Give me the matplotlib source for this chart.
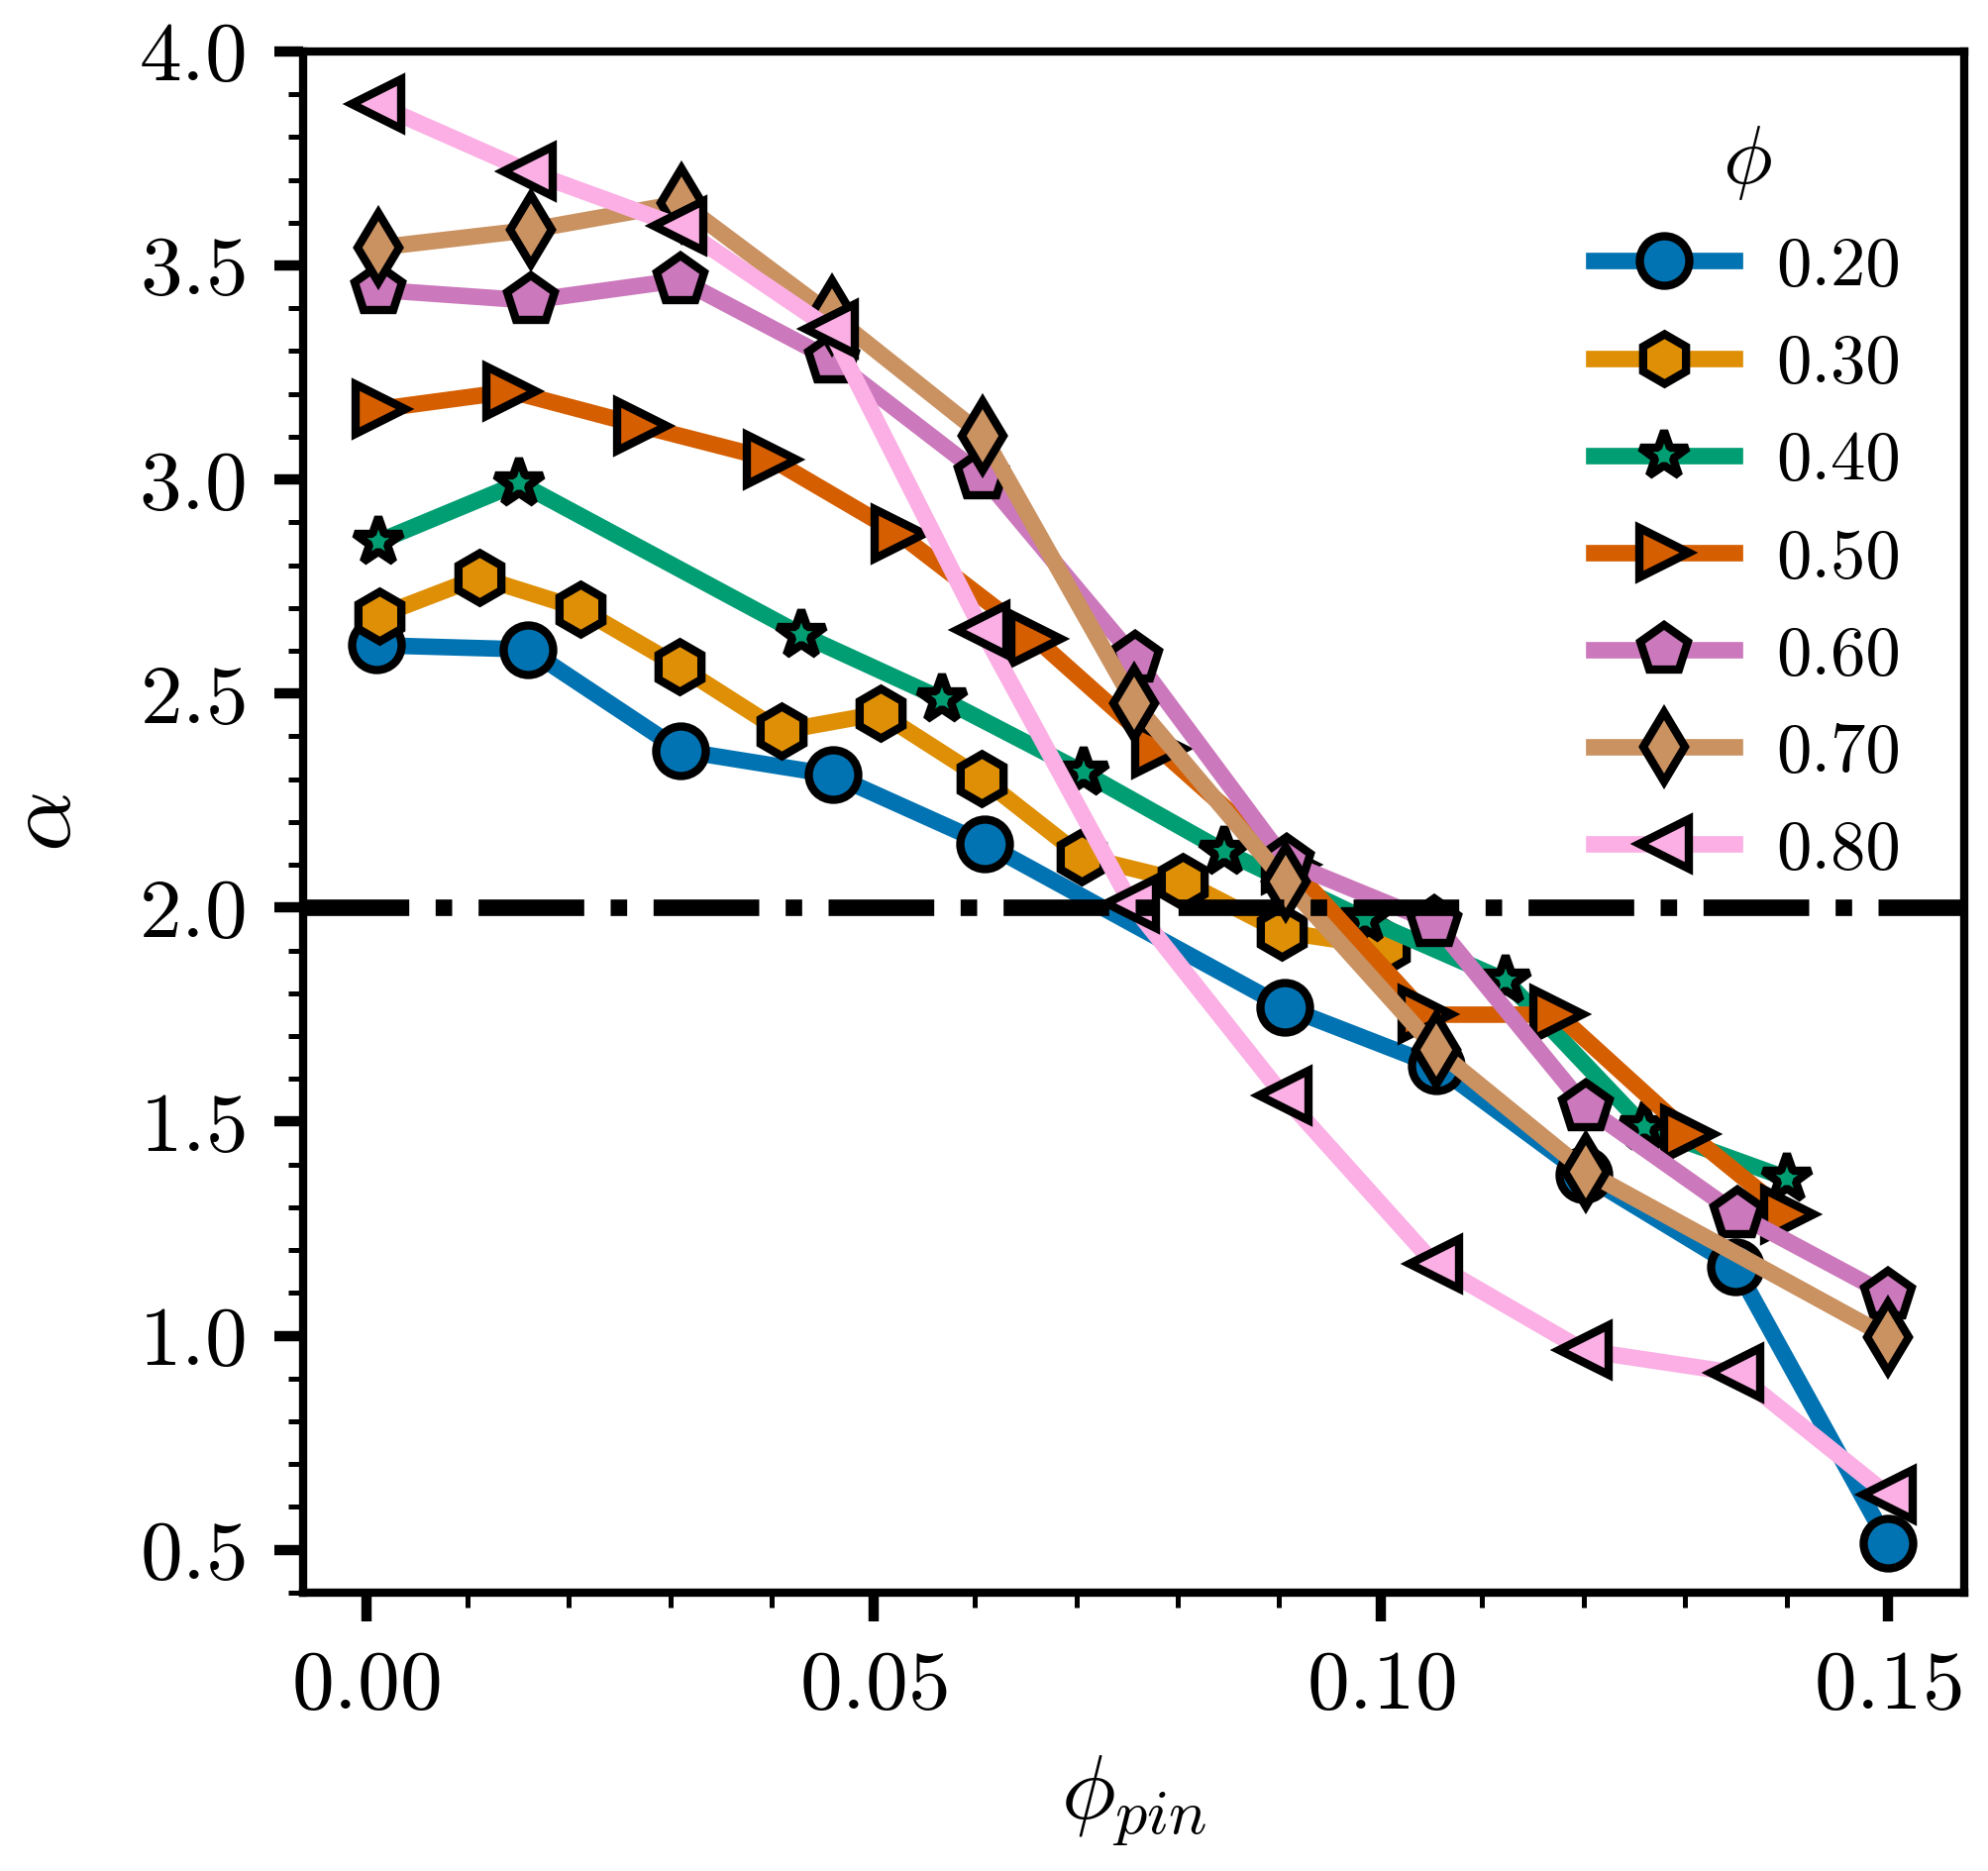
import numpy as np
import matplotlib
matplotlib.use("Agg")
import matplotlib.pyplot as plt
from matplotlib.ticker import MultipleLocator

plt.rcParams["font.family"] = "serif"
plt.rcParams["font.serif"] = ["cmr10"]
plt.rcParams["mathtext.fontset"] = "cm"
plt.rcParams["axes.formatter.use_mathtext"] = True

# alpha vs phi_pin for each packing fraction phi
phi_labels = ["0.20", "0.30", "0.40", "0.50", "0.60", "0.70", "0.80"]

x_020 = [0.001, 0.016, 0.031, 0.046, 0.061, 0.0905, 0.1055, 0.120, 0.135, 0.150]
y_020 = [2.613, 2.603, 2.367, 2.31, 2.15, 1.768, 1.63, 1.376, 1.16, 0.516]

x_030 = [0.0013, 0.0112, 0.0211, 0.0309, 0.0409, 0.0507, 0.0607, 0.0705, 0.0805, 0.0902, 0.1004]
y_030 = [2.682, 2.772, 2.698, 2.563, 2.412, 2.454, 2.302, 2.12, 2.062, 1.944, 1.908]

x_040 = [0.0012, 0.0151, 0.0429, 0.0568, 0.0707, 0.0846, 0.0984, 0.1123, 0.126, 0.140]
y_040 = [2.855, 2.992, 2.638, 2.487, 2.316, 2.131, 1.974, 1.83, 1.488, 1.368]

x_050 = [0.0014, 0.0143, 0.0272, 0.040, 0.0526, 0.066, 0.0782, 0.091, 0.1045, 0.1175, 0.1304, 0.1402]
y_050 = [3.165, 3.206, 3.125, 3.047, 2.872, 2.628, 2.37, 2.1, 1.75, 1.75, 1.472, 1.283]

x_060 = [0.0012, 0.0162, 0.031, 0.0459, 0.0607, 0.0758, 0.0907, 0.1053, 0.1202, 0.1352, 0.150]
y_060 = [3.443, 3.418, 3.466, 3.28, 3.01, 2.582, 2.107, 1.965, 1.534, 1.283, 1.095]

x_070 = [0.0012, 0.0162, 0.0311, 0.0459, 0.0608, 0.0757, 0.0906, 0.1055, 0.1202, 0.150]
y_070 = [3.542, 3.583, 3.646, 3.384, 3.103, 2.478, 2.06, 1.668, 1.384, 0.997]

x_080 = [0.001, 0.016, 0.0308, 0.0457, 0.0607, 0.0754, 0.0904, 0.1053, 0.120, 0.135, 0.150]
y_080 = [3.877, 3.72, 3.592, 3.353, 2.649, 2.009, 1.561, 1.168, 0.966, 0.913, 0.628]

xs = [x_020, x_030, x_040, x_050, x_060, x_070, x_080]
ys = [y_020, y_030, y_040, y_050, y_060, y_070, y_080]

colors = ["#0173b2", "#de8f05", "#029e73", "#d55e00", "#cc78bc", "#ca9161", "#fbafe4"]
markers = ["o", "h", "*", ">", "p", "d", "<"]

fig = plt.figure(figsize=(2007 / 300, 1889 / 300), dpi=300)
ax = fig.add_axes([0.1525, 0.1488, 0.988 - 0.1525, 0.9725 - 0.1488])

for x, y, c, m, lab in zip(xs, ys, colors, markers, phi_labels):
    ax.plot(x, y, color=c, marker=m, lw=4, ms=12, mec="k", mew=2, label=lab)

ax.axhline(2.0, color="k", ls="-.", lw=4)

ax.set_xlim(-0.0062, 0.1575)
ax.set_ylim(0.4, 4.0)
ax.xaxis.set_major_locator(MultipleLocator(0.05))
ax.xaxis.set_minor_locator(MultipleLocator(0.01))
ax.yaxis.set_major_locator(MultipleLocator(0.5))
ax.yaxis.set_minor_locator(MultipleLocator(0.1))
ax.tick_params(which="major", length=7, width=2.5, labelsize=20.5, pad=7)
ax.tick_params(which="minor", length=3.5, width=1.2)
for s in ax.spines.values():
    s.set_linewidth(2)

ax.set_xlabel(r"$\phi_{pin}$", fontsize=22, labelpad=7)
ax.set_ylabel(r"$\alpha$", fontsize=23, labelpad=12)

leg = ax.legend(title=r"$\phi$", loc="upper right", bbox_to_anchor=(1.0, 0.994),
                frameon=False, fontsize=17, title_fontsize=20,
                labelspacing=0.485, handletextpad=0.6)

fig.savefig("out.png", dpi=300)
